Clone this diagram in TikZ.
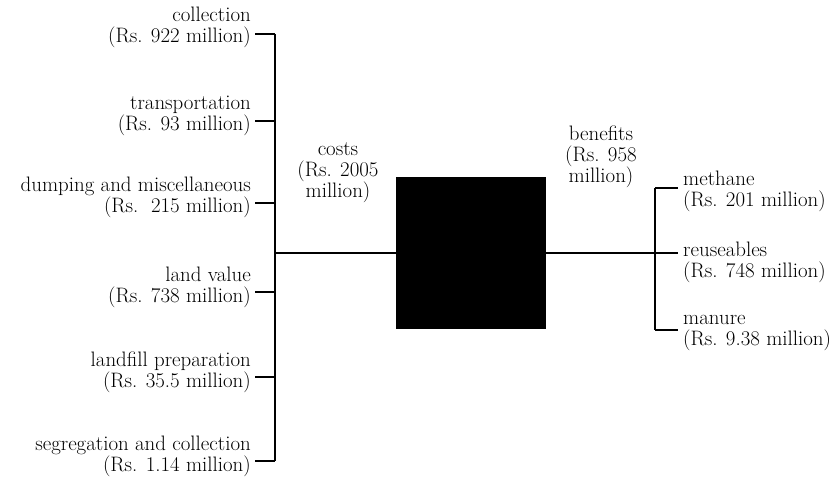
\documentclass[tikz,border=0pt]{standalone}
\usepackage{tikz}
\usetikzlibrary{positioning}

\begin{document}
\begin{tikzpicture}[
    x=1pt, y=-1pt,
    item/.style={inner sep=0pt, font=\fontsize{20.9}{21}\selectfont},
    costitem/.style={item, anchor=east, align=right},
    gainitem/.style={item, anchor=west, align=left},
    total/.style={item, align=center},
    bigbox/.style={rectangle, draw=black, fill=black, minimum width=149pt, minimum height=151pt, inner sep=0pt},
    link/.style={line width=1.8pt}
]
\useasboundingbox (0,0) rectangle (836,478);

% Nodes
\node (Box) [bigbox] at (471,253) {};

\node (Collection) [costitem] at (251,27) {collection\\(Rs. 922 million)};
\node (Transport) [costitem] at (251,116) {transportation\\(Rs. 93 million)};
\node (Dumping) [costitem] at (251,197) {dumping and miscellaneous\\(Rs.\ \ 215 million)};
\node (Land) [costitem] at (251,287) {land value\\(Rs. 738 million)};
\node (Landfill) [costitem] at (251,372) {landfill preparation\\(Rs. 35.5 million)};
\node (Segregation) [costitem] at (251,456) {segregation and collection\\(Rs. 1.14 million)};

\node (Costs) [total] at (338,173) {costs\\(Rs. 2005\\million)};
\node (Benefits) [total] at (601,157) {benefits\\(Rs. 958\\million)};

\node (Methane) [gainitem] at (683,191) {methane\\(Rs. 201 million)};
\node (Reuse) [gainitem] at (683,262) {reuseables\\(Rs. 748 million)};
\node (Manure) [gainitem] at (683,333) {manure\\(Rs. 9.38 million)};

% Trunks
\coordinate (c1) at (275,34);
\coordinate (c2) at (275,121);
\coordinate (c3) at (275,203);
\coordinate (c4) at (275,292);
\coordinate (c5) at (275,377);
\coordinate (c6) at (275,461);
\coordinate (cTap) at (275,253);
\coordinate (b1) at (655,188);
\coordinate (b2) at (678,253);
\coordinate (b3) at (655,330);

% Lines
\draw [link] (c1) -- (c6);
\draw [link] ([xshift=4pt]Collection.east |- c1) -- (c1);
\draw [link] ([xshift=4pt]Transport.east |- c2) -- (c2);
\draw [link] ([xshift=4pt]Dumping.east |- c3) -- (c3);
\draw [link] ([xshift=4pt]Land.east |- c4) -- (c4);
\draw [link] ([xshift=4pt]Landfill.east |- c5) -- (c5);
\draw [link] ([xshift=4pt]Segregation.east |- c6) -- (c6);
\draw [link] (cTap) -- (Box.west);

\draw [link] (Box.east) -- (b2);
\draw [link] (b1) -- (b3);
\draw [link] (b1) -- ([xshift=-5pt]Methane.west |- b1);
\draw [link] (b3) -- ([xshift=-5pt]Manure.west |- b3);

\end{tikzpicture}
\end{document}
